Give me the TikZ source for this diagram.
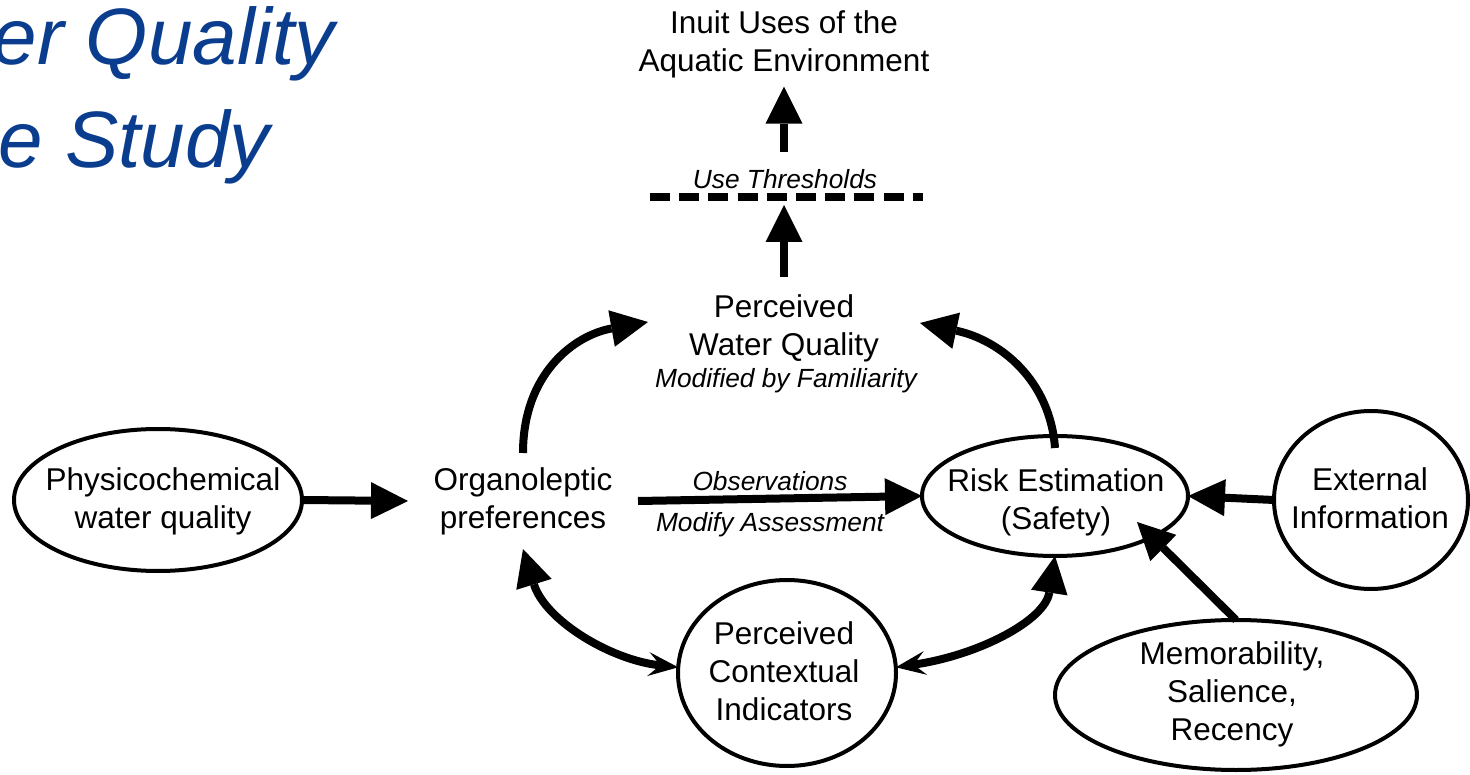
\documentclass[tikz,border=0pt]{standalone}
\usepackage{fontspec}
\setmainfont{Liberation Sans}
\usetikzlibrary{arrows.meta,shapes.geometric}
\definecolor{titleblue}{RGB}{11,61,143}

\begin{document}
\begin{tikzpicture}[x=1pt,y=-1pt,
  every node/.style={inner sep=0pt, outer sep=0pt},
  body/.style={font=\fontsize{31.5}{38}\selectfont, align=center},
  note/.style={font=\fontsize{26.3}{30}\selectfont\itshape},
  heading/.style={font=\fontsize{80}{88}\selectfont\itshape, text=titleblue},
  bubble/.style={draw, line width=4pt, ellipse},
  bigtip/.tip={Triangle[length=37pt,width=37pt,line width=0pt]},
  thintip/.tip={Stealth[length=30pt,width=24pt,inset=12pt,line width=0pt]},
  flow/.style={line width=8pt, -bigtip},
  twoway/.style={line width=8pt, thintip-bigtip},
  gate/.style={line width=8pt, dash pattern=on 20pt off 9.2pt}
]
\useasboundingbox (0,0) rectangle (1470,775);
\clip (0,0) rectangle (1470,775);

% heading, cut at the left edge
\node[heading, anchor=base east] (titleA) at (335,65) {er Quality};
\node[heading, anchor=base east] (titleB) at (270,168) {e Study};

% top of the chain
\node[body] (inuit) at (784,44) {Inuit Uses of the\\Aquatic Environment};
\node[note, anchor=base] (thr) at (785,189) {Use Thresholds};
\coordinate (gateL) at (650,197);
\coordinate (gateR) at (923,197);
\draw[gate] (gateL) -- (gateR);
\coordinate (gateHigh) at (784,152);
\coordinate (gateLow) at (784,205);

\node[body] (pwq) at (784,328) {Perceived\\Water Quality};
\node[note, anchor=base] (fam) at (786,388) {Modified by Familiarity};
\coordinate (pwqL) at (648,322);
\coordinate (pwqR) at (920,323);

% main row
\node[bubble, minimum width=288pt, minimum height=142pt] (phys) at (158,500) {};
\node[body] (physT) at (163,501) {Physicochemical\\water quality};

\node[body, minimum width=230pt, minimum height=96pt] (org) at (523,501) {Organoleptic\\preferences};

\node[bubble, minimum width=266pt, minimum height=120pt] (risk) at (1055,496) {};
\node[body] (riskT) at (1056,502) {Risk Estimation\\(Safety)};

\node[bubble, minimum width=194pt, minimum height=178pt] (ext) at (1371,500) {};
\node[body] (extT) at (1370,498) {External\\Information};

\node[bubble, minimum width=362pt, minimum height=150pt] (mem) at (1236,695) {};
\node[body] (memT) at (1232,694) {Memorability,\\Salience,\\Recency};

\node[bubble, minimum width=218pt, minimum height=186pt] (ctx) at (787,673) {};
\node[body] (ctxT) at (784,671) {Perceived\\Contextual\\Indicators};

\node[note, anchor=base] (obs) at (770,490) {Observations};
\node[note, anchor=base] (modas) at (770,531) {Modify Assessment};

\coordinate (memTip) at ([shift={(82,26)}]risk.center);

% connectors
\draw[flow] (gateHigh) -- ([yshift=-9pt]inuit.south);
\draw[flow] ([yshift=17pt]pwq.north) -- (gateLow);
\draw[flow] (org.north) .. controls (523,373) and (575,335) .. (pwqL);
\draw[flow] ([yshift=-12pt]risk.north) .. controls (1050,380) and (1000,340) .. (pwqR);
\draw[flow] (phys.east) -- (org.west);
\draw[flow] (org.east) -- (risk.west);
\draw[flow] (ext.west) -- (risk.east);
\draw[flow] (mem.north) -- (memTip);
\draw[twoway] (ctx.177) .. controls (610,660) and (545,620) .. (org.south);
\draw[twoway] (ctx.3) .. controls (980,655) and (1045,620) .. (risk.south);
\end{tikzpicture}
\end{document}
